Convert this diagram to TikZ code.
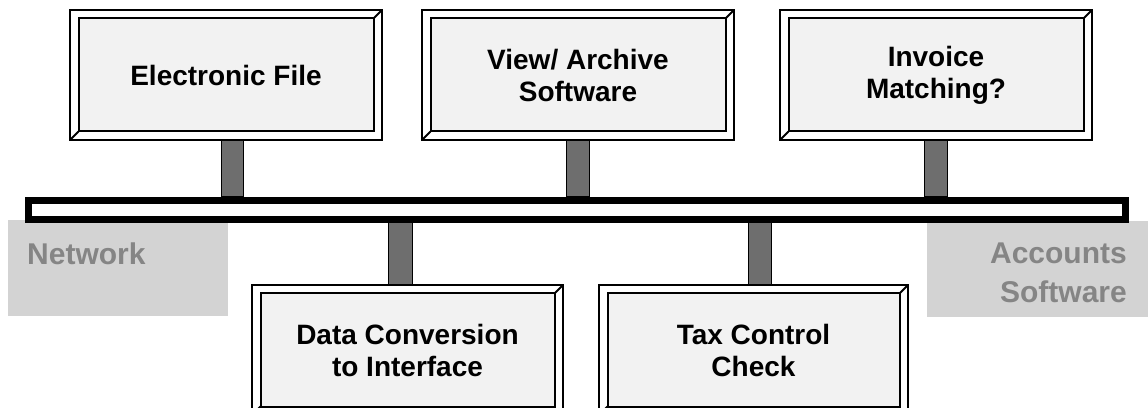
\documentclass[tikz,border=0pt]{standalone}
\usepackage{fontspec}
\setmainfont{Liberation Sans}
\definecolor{boxfill}{HTML}{F2F2F2}
\definecolor{stemfill}{HTML}{6E6E6E}
\definecolor{labelbg}{HTML}{D3D3D3}
\definecolor{labeltext}{HTML}{858585}
\tikzset{
 framebox/.style={draw, line width=1.2pt, fill=white, minimum width=312pt, minimum height=130pt, inner sep=0pt, align=center,
  font=\bfseries\fontsize{28}{32}\selectfont,
  path picture={
   \draw[line width=2pt, fill=boxfill] ([shift={(8.5pt,-8.5pt)}]path picture bounding box.north west) rectangle ([shift={(-8.5pt,8.5pt)}]path picture bounding box.south east);
   \draw[line width=2pt] (path picture bounding box.north east) -- ([shift={(-8.5pt,-8.5pt)}]path picture bounding box.north east);
   \draw[line width=2pt] (path picture bounding box.south west) -- ([shift={(8.5pt,8.5pt)}]path picture bounding box.south west);
  }},
 stem/.style={draw=black, line width=1pt, fill=stemfill},
 bus/.style={draw=black, line width=7pt, fill=white, minimum width=1097pt, minimum height=19pt, inner sep=0pt},
 labelbox/.style={fill=labelbg, inner sep=0pt},
 labeltxt/.style={text=labeltext, font=\bfseries\fontsize{30}{39}\selectfont, inner sep=0pt},
}
\begin{document}
\begin{tikzpicture}[x=1pt,y=1pt]
\useasboundingbox (0,0) rectangle (1148,407);
\clip (0,0) rectangle (1148,407);
% grey side labels
\node[labelbox, minimum width=220pt, minimum height=96pt, anchor=north west] (netbox) at (8,187) {};
\node[labeltxt, anchor=base west] (net) at (27,142) {Network};
\node[labelbox, minimum width=221pt, minimum height=96pt, anchor=north west] (accbox) at (927,186) {};
\node[labeltxt, align=right, anchor=north east] (acc) at (1127,164) {Accounts\\Software};
% bus
\node[bus] (bus) at (577,197) {};
% frame boxes
\node[framebox] (ef) at (226,332) {Electronic File};
\node[framebox] (view) at (578,332) {View/ Archive\\Software};
\node[framebox] (inv) at (936,332) {Invoice\\Matching?};
\node[framebox, minimum width=311pt] (dc) at (407.5,57) {Data Conversion\\to Interface};
\node[framebox, minimum width=309pt] (tax) at (753.5,57) {Tax Control\\Check};
% stems
\draw[stem] ([xshift=-5pt]ef.south) rectangle ([xshift=17pt]ef.south |- bus.north);
\draw[stem] ([xshift=-11.5pt]view.south) rectangle ([xshift=11.5pt]view.south |- bus.north);
\draw[stem] ([xshift=-12pt]inv.south) rectangle ([xshift=11pt]inv.south |- bus.north);
\draw[stem] ([xshift=-19.5pt]dc.north) rectangle ([xshift=4.5pt]dc.north |- bus.south);
\draw[stem] ([xshift=-5.5pt]tax.north) rectangle ([xshift=17.5pt]tax.north |- bus.south);
\end{tikzpicture}
\end{document}
